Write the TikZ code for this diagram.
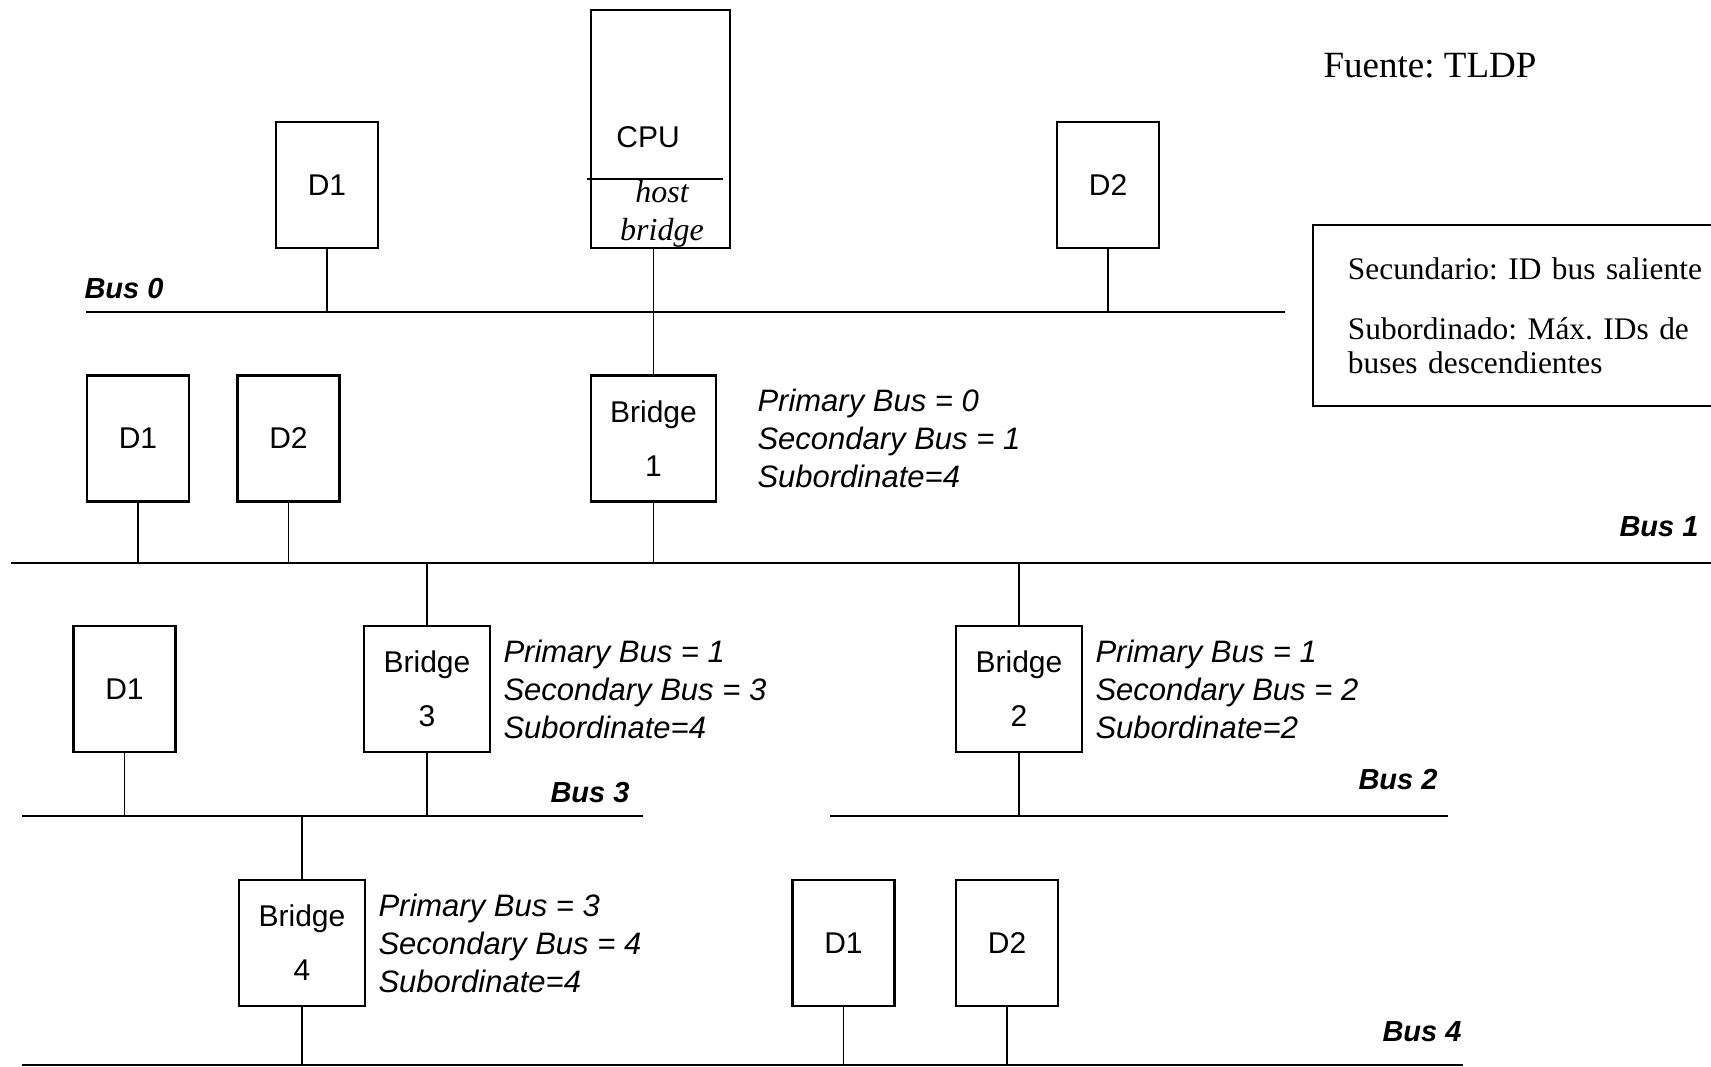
\documentclass[tikz,border=0pt]{standalone}
\usepackage{fontspec}
\setmainfont{Liberation Serif}
\setsansfont{Liberation Sans}
\usetikzlibrary{positioning}
\frenchspacing

\tikzset{
  caja/.style={draw, line width=1.1pt, minimum width=51pt, minimum height=63pt,
    inner sep=0pt, font=\sffamily\fontsize{15}{15}\selectfont},
  puente/.style={caja, minimum width=63pt, align=center,
    font=\sffamily\fontsize{15}{27}\selectfont},
  bus/.style={line width=1.4pt},
  cable/.style={line width=0.9pt},
  datos/.style={anchor=west, align=left, inner sep=0pt,
    font=\sffamily\itshape\fontsize{15.5}{19}\selectfont},
  nombrebus/.style={inner sep=0pt, font=\sffamily\bfseries\itshape\fontsize{14.5}{14.5}\selectfont},
}

\begin{document}
\begin{tikzpicture}[x=0.5pt, y=-0.5pt]

      % marco
      \useasboundingbox (0,0) rectangle (1711,1066);

      % CPU y host bridge
      \node[caja, minimum width=69.5pt, minimum height=119pt] (cpu) at (660.5,129) {};
      \node[font=\sffamily\fontsize{15}{15}\selectfont] (cpulbl) at (648,137) {CPU};
      \draw[line width=0.9pt] (587,179) -- (723,179);
      \node[font=\itshape\fontsize{16}{19}\selectfont, align=center, inner sep=0pt] (host) at (662,214) {host\\bridge};

      % Buses
      \draw[bus] (86,312) coordinate (bus0w) -- (1285,312) coordinate (bus0e);
      \draw[bus] (11,563) coordinate (bus1w) -- (1711,563) coordinate (bus1e);
      \draw[bus] (22,816) coordinate (bus3w) -- (643,816) coordinate (bus3e);
      \draw[bus] (830,816) coordinate (bus2w) -- (1448,816) coordinate (bus2e);
      \draw[bus] (22,1065) coordinate (bus4w) -- (1463,1065) coordinate (bus4e);

      \node[nombrebus] (lbl0) at (124,289) {Bus 0};
      \node[nombrebus] (lbl1) at (1659,527) {Bus 1};
      \node[nombrebus] (lbl3) at (590,793) {Bus 3};
      \node[nombrebus] (lbl2) at (1398,780) {Bus 2};
      \node[nombrebus] (lbl4) at (1422,1032) {Bus 4};

      % Dispositivos
      \node[caja] (d1a) at (327,185) {D1};
      \node[caja] (d2a) at (1108,185) {D2};
      \node[caja] (d1b) at (138,438.5) {D1};
      \node[caja] (d2b) at (288.5,438.5) {D2};
      \node[caja] (d1c) at (124.5,689) {D1};
      \node[caja] (d1d) at (843.5,943) {D1};
      \node[caja] (d2d) at (1007,943) {D2};

      % Puentes
      \node[puente, minimum width=62.5pt] (br1) at (653.5,438.5) {Bridge\\1};
      \node[puente] (br3) at (427,689) {Bridge\\3};
      \node[puente] (br2) at (1019,689) {Bridge\\2};
      \node[puente] (br4) at (302,943) {Bridge\\4};

      \node[datos, right=20pt of br1.east] (inf1) {Primary Bus = 0\\Secondary Bus = 1\\Subordinate=4};
      \node[datos, right=6pt of br3.east] (inf3) {Primary Bus = 1\\Secondary Bus = 3\\Subordinate=4};
      \node[datos, right=6pt of br2.east] (inf2) {Primary Bus = 1\\Secondary Bus = 2\\Subordinate=2};
      \node[datos, right=6pt of br4.east] (inf4) {Primary Bus = 3\\Secondary Bus = 4\\Subordinate=4};

      % Conexiones hacia abajo
      \foreach \n/\b in {d1a/bus0w, d2a/bus0w, d1b/bus1w, d2b/bus1w, br1/bus1w,
                         d1c/bus3w, br3/bus3w, br2/bus2w, br4/bus4w, d1d/bus4w, d2d/bus4w} {
          \draw[cable] (\n.south) -- (\n.south |- \b);
        }

      % Conexiones hacia arriba
      \foreach \n/\b in {br3/bus1w, br2/bus1w, br4/bus3w} {
          \draw[cable] (\n.north) -- (\n.north |- \b);
        }
      \draw[cable] (br1.north) -- (br1.north |- cpu.south);

      % Fuente y leyenda
      \node[font=\fontsize{18.5}{18.5}\selectfont] (fuente) at (1430,66) {Fuente: TLDP};
      \node[draw, line width=0.9pt, anchor=north west, minimum height=90.5pt,
            text width=210pt, inner xsep=17.5pt, align=left,
            font=\fontsize{15.7}{17}\selectfont] (leyenda) at (1312,224)
            {Secundario: ID bus saliente\\[13pt]Subordinado: Máx. IDs de\\buses descendientes};
    \end{tikzpicture}
\end{document}
